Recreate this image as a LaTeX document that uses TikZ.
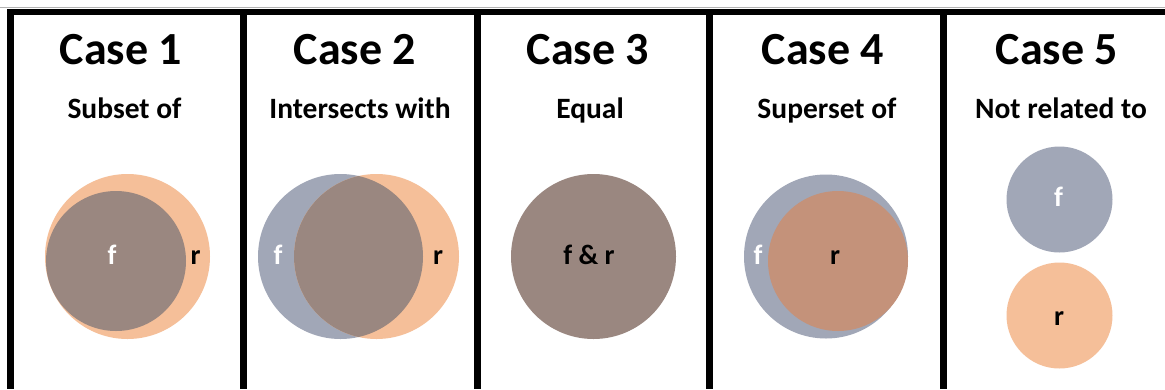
\documentclass[tikz,border=0pt]{standalone}
\usepackage{fontspec}
\setmainfont{Carlito}
\definecolor{fblue}{HTML}{A1A7B7}
\definecolor{rorange}{HTML}{F5BF99}
\definecolor{ovl}{HTML}{9A8780}
\definecolor{ovlb}{HTML}{C4927A}
\begin{document}
\begin{tikzpicture}[x=1pt,y=-1pt,
  title/.style={font=\bfseries\fontsize{46}{50}\selectfont,anchor=base,inner sep=0pt},
  subtitle/.style={font=\bfseries\fontsize{29.5}{33}\selectfont,anchor=base,inner sep=0pt},
  lblw/.style={font=\bfseries\fontsize{28}{32}\selectfont,anchor=base,inner sep=0pt,text=white},
  lblb/.style={font=\bfseries\fontsize{28}{32}\selectfont,anchor=base,inner sep=0pt,text=black}]
\useasboundingbox (0,0) rectangle (1165,389);
\fill[white] (0,0) rectangle (1165,389);
% frame
\draw[gray!60,line width=1pt] (0,7) -- (1165,7);
\fill[black] (7,9) rectangle (1165,15);
\foreach \x in {7,240,474,706,940} \fill[black] (\x,9) rectangle (\x+6.5,389);
% titles
\node[title] (t1) at (121,64) {Case 1};
\node[title] (t2) at (355,64) {Case 2};
\node[title] (t3) at (588,64) {Case 3};
\node[title] (t4) at (823,64) {Case 4};
\node[title] (t5) at (1057,64) {Case 5};
\node[subtitle] (s1) at (124.5,118) {Subset of};
\node[subtitle] (s2) at (360,118) {Intersects with};
\node[subtitle] (s3) at (590,118) {Equal};
\node[subtitle] (s4) at (827,118) {Superset of};
\node[subtitle] (s5) at (1061,118) {Not related to};
% case 1
\fill[rorange] (127.5,256.5) circle[radius=82.5];
\fill[ovl] (116,261) circle[radius=70];
\node[lblw] (f1) at (112,264) {f};
\node[lblb] (r1) at (195.5,264) {r};
% case 2
\fill[fblue] (340.5,256.5) circle[radius=82.5];
\fill[rorange] (376.5,256.5) circle[radius=82.5];
\begin{scope}
\clip (340.5,256.5) circle[radius=82.5];
\fill[ovl] (376.5,256.5) circle[radius=82.5];
\end{scope}
\node[lblw] (f2) at (278,264) {f};
\node[lblb] (r2) at (438,264) {r};
% case 3
\fill[ovl] (593.5,256.5) circle[radius=82.5];
\node[lblb] (fr3) at (589,264) {f \& r};
% case 4
\fill[fblue] (826,256.5) circle[radius=82];
\fill[ovlb] (838,261) circle[radius=70];
\node[lblw] (f4) at (758,264) {f};
\node[lblb] (r4) at (835,264) {r};
% case 5
\fill[fblue] (1059.5,199.5) circle[radius=53];
\fill[rorange] (1059.5,315.5) circle[radius=53];
\node[lblw] (f5) at (1058.5,206.5) {f};
\node[lblb] (r5) at (1059,325) {r};
\end{tikzpicture}
\end{document}
